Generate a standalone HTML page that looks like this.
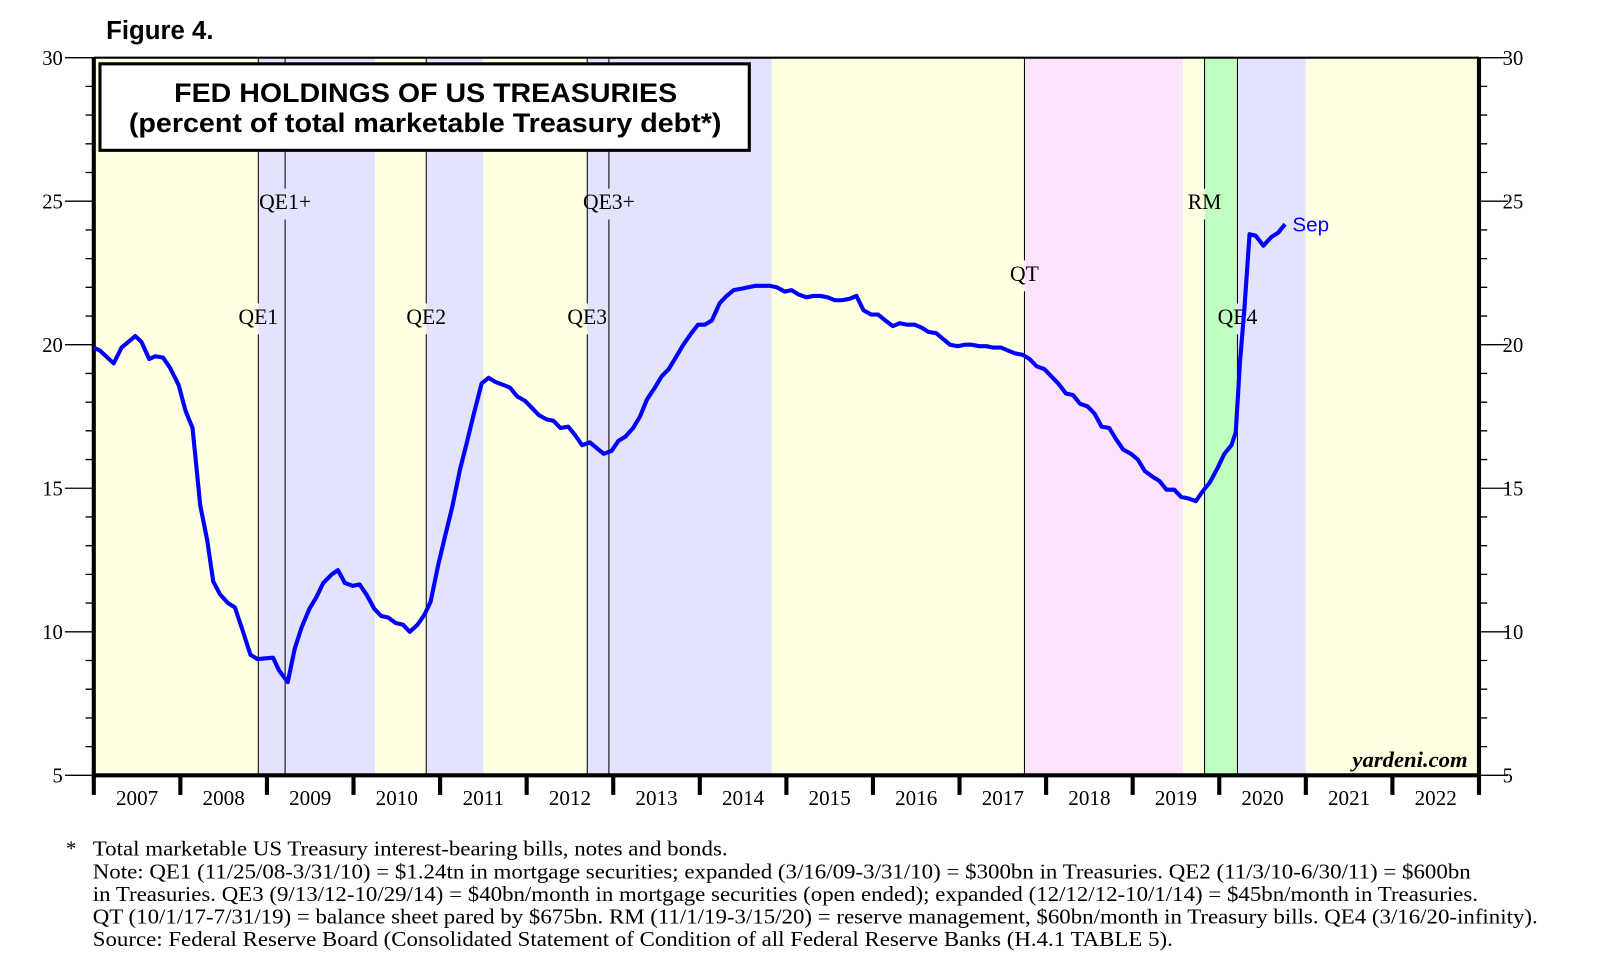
<!DOCTYPE html>
<html><head><meta charset="utf-8"><style>
html,body{margin:0;padding:0;background:#fff;}
svg{display:block;}
.serif{font-family:"Liberation Serif",serif;}
.sans{font-family:"Liberation Sans",sans-serif;}
</style></head><body>
<svg id="chart" width="1614" height="972" viewBox="0 0 1566 944" preserveAspectRatio="none" xmlns="http://www.w3.org/2000/svg">
<g id="bands"></g>
<g id="vlines"></g>
<g id="axes"></g>
<path id="series" fill="none" stroke="#0000ff" stroke-width="4" stroke-linejoin="round"/>
<text x="1254" y="225" class="sans" font-size="20" fill="#0000ff">Sep</text>
<text x="103" y="38" class="sans" font-size="25" font-weight="bold">Figure 4.</text>
<g>
<rect x="97" y="62" width="630" height="84" fill="#fff" stroke="#000" stroke-width="3"/>
<text x="169" y="99" textLength="488" lengthAdjust="spacingAndGlyphs" class="sans" font-size="26" font-weight="bold">FED HOLDINGS OF US TREASURIES</text>
<text x="125" y="128" textLength="575" lengthAdjust="spacingAndGlyphs" class="sans" font-size="26" font-weight="bold">(percent of total marketable Treasury debt*)</text>
</g>
<text x="1424" y="745" text-anchor="end" class="serif" font-size="22" font-style="italic" font-weight="bold">yardeni.com</text>
<g class="serif" font-size="20">
<text x="64" y="831">*</text>
<text x="90" y="831" textLength="616" lengthAdjust="spacingAndGlyphs">Total marketable US Treasury interest-bearing bills, notes and bonds.</text>
<text x="90" y="853" textLength="1337" lengthAdjust="spacingAndGlyphs">Note: QE1 (11/25/08-3/31/10) = $1.24tn in mortgage securities; expanded (3/16/09-3/31/10) = $300bn in Treasuries. QE2 (11/3/10-6/30/11) = $600bn</text>
<text x="90" y="875" textLength="1344" lengthAdjust="spacingAndGlyphs">in Treasuries. QE3 (9/13/12-10/29/14) = $40bn/month in mortgage securities (open ended); expanded (12/12/12-10/1/14) = $45bn/month in Treasuries.</text>
<text x="90" y="897" textLength="1402" lengthAdjust="spacingAndGlyphs">QT (10/1/17-7/31/19) = balance sheet pared by $675bn. RM (11/1/19-3/15/20) = reserve management, $60bn/month in Treasury bills. QE4 (3/16/20-infinity).</text>
<text x="90" y="919" textLength="1048" lengthAdjust="spacingAndGlyphs">Source: Federal Reserve Board (Consolidated Statement of Condition of all Federal Reserve Banks (H.4.1 TABLE 5).</text>
</g>
</svg>
<script>
// data
const yearLabels = [2007,2008,2009,2010,2011,2012,2013,2014,2015,2016,2017,2018,2019,2020,2021,2022];
const yTicks = [5,10,15,20,25,30];
const bandStarts = [2007,2008.9,2010.25,2010.84,2011.5,2012.7,2014.83,2017.75,2019.58,2019.83,2020.2,2021];
const bandEnds   = [2008.9,2010.25,2010.84,2011.5,2012.7,2014.83,2017.75,2019.58,2019.83,2020.2,2021,2023];
const bandKinds  = ['y','l','y','l','y','l','y','p','y','g','l','y'];
const eventNames = ['QE1','QE1+','QE2','QE3','QE3+','QT','RM','QE4'];
const eventDates = [2008.9,2009.21,2010.84,2012.7,2012.95,2017.75,2019.83,2020.21];
const eventLabelLevels = [20.72,24.72,20.72,20.72,24.72,22.22,24.72,20.72];
const dates = [0,.07,.23,.32,.48,.55,.64,.71,.80,.88,.98,1.06,1.14,1.23,1.31,1.38,1.46,1.55,1.63,1.73,1.81,1.89,2.07,2.14,2.24,2.32,2.40,2.49,2.57,2.65,2.75,2.82,2.90,2.99,3.07,3.15,3.24,3.32,3.40,3.49,3.57,3.65,3.74,3.82,3.89,3.98,4.06,4.14,4.23,4.31,4.39,4.48,4.56,4.64,4.73,4.81,4.89,4.98,5.06,5.14,5.23,5.31,5.39,5.48,5.56,5.64,5.73,5.81,5.89,5.98,6.06,6.14,6.23,6.31,6.39,6.48,6.56,6.64,6.73,6.81,6.89,6.98,7.06,7.14,7.23,7.31,7.39,7.48,7.56,7.64,7.73,7.81,7.89,7.98,8.06,8.14,8.23,8.31,8.39,8.48,8.56,8.64,8.73,8.81,8.89,8.98,9.06,9.14,9.23,9.31,9.39,9.48,9.56,9.64,9.73,9.81,9.89,9.98,10.06,10.14,10.23,10.31,10.39,10.48,10.56,10.64,10.73,10.81,10.89,10.98,11.06,11.14,11.23,11.31,11.39,11.48,11.56,11.64,11.73,11.81,11.89,11.98,12.06,12.14,12.23,12.31,12.39,12.48,12.56,12.64,12.73,12.81,12.89,12.98,13.06,13.14,13.19,13.24,13.29,13.35,13.42,13.51,13.60,13.68,13.76];
const values = [19.9,19.8,19.35,19.9,20.3,20.1,19.5,19.6,19.55,19.2,18.6,17.7,17.1,14.4,13.2,11.75,11.3,11.0,10.85,9.95,9.2,9.05,9.1,8.65,8.25,9.4,10.15,10.8,11.2,11.7,12.0,12.15,11.7,11.6,11.65,11.3,10.8,10.55,10.5,10.3,10.25,10.0,10.25,10.6,11.05,12.35,13.35,14.35,15.65,16.6,17.6,18.65,18.85,18.7,18.6,18.5,18.2,18.05,17.8,17.55,17.4,17.35,17.1,17.15,16.85,16.5,16.6,16.4,16.2,16.3,16.65,16.8,17.1,17.5,18.1,18.5,18.9,19.15,19.6,20.0,20.35,20.7,20.7,20.85,21.45,21.7,21.9,21.95,22.0,22.05,22.05,22.05,22.0,21.85,21.9,21.75,21.65,21.7,21.7,21.65,21.55,21.55,21.6,21.7,21.2,21.05,21.05,20.85,20.65,20.75,20.7,20.7,20.6,20.45,20.4,20.2,20.0,19.95,20.0,20.0,19.95,19.95,19.9,19.9,19.8,19.7,19.65,19.5,19.25,19.15,18.9,18.65,18.3,18.25,17.95,17.85,17.6,17.15,17.1,16.7,16.35,16.2,16.0,15.6,15.4,15.25,14.95,14.95,14.7,14.65,14.55,14.9,15.2,15.7,16.2,16.5,16.95,19.45,21.25,23.85,23.8,23.45,23.75,23.9,24.2];

const NS='http://www.w3.org/2000/svg';
const L=91,R=1435,T=56,B=753,Y0=2007,Y1=2023,V0=5,V1=30;
const xs=d=>L+(d-Y0)/(Y1-Y0)*(R-L);
const ys=v=>B-(v-V0)/(V1-V0)*(B-T);
function mk(tag,at,parent){const e=document.createElementNS(NS,tag);for(const k in at)e.setAttribute(k,at[k]);parent.appendChild(e);return e;}
const colors={y:'#ffffe3',l:'#e3e3fd',p:'#fce3fc',g:'#bfffbf'};
const bands=document.getElementById('bands');
bandStarts.forEach((s,i)=>{
  const e=mk('rect',{x:xs(s),y:T,width:xs(Math.min(bandEnds[i],Y1))-xs(s),height:B-T,fill:colors[bandKinds[i]]},bands);
  
  
});
const vl=document.getElementById('vlines');
eventDates.forEach((d,i)=>{
  const x=xs(d), ly=ys(eventLabelLevels[i]);
  const ln=mk('path',{d:`M${x},${T}V${ly-20}M${x},${ly+10}V${B}`,stroke:'#000','stroke-width':1},vl);
  
  
  const t=mk('text',{x:x,y:ly,'text-anchor':'middle','font-size':21,class:'serif'},vl);
  t.textContent=eventNames[i];
  
  
});
const ax=document.getElementById('axes');
mk('path',{d:`M${L},${T}H${R}`,stroke:'#000','stroke-width':2},ax);
mk('path',{d:`M${L},${T}V${B}H${R}V${T}`,stroke:'#000','stroke-width':4,fill:'none'},ax);
for(let v=V0;v<=V1;v++){
  const y=ys(v),maj=v%5===0,len=maj?28:8;
  mk('path',{d:`M${L-len},${y}H${L}M${R},${y}H${R+len}`,stroke:'#000','stroke-width':1.3},ax);
}
yTicks.forEach(v=>{
  const a=mk('text',{x:L-30,y:ys(v)+7,'text-anchor':'end','font-size':20,class:'serif'},ax);a.textContent=v;
  
  
  const b=mk('text',{x:R+23,y:ys(v)+7,'font-size':20,class:'serif'},ax);b.textContent=v;
  
  
});
for(let yr=Y0;yr<=Y1;yr++){mk('path',{d:`M${xs(yr)},${B}V${B+19}`,stroke:'#000','stroke-width':4},ax);}
yearLabels.forEach(yr=>{
  const t=mk('text',{x:xs(yr+0.5),y:B+29,'text-anchor':'middle','font-size':20.5,class:'serif'},ax);t.textContent=yr;
  
  
});
document.getElementById('series').setAttribute('d',dates.map((d,i)=>(i?'L':'M')+xs(Y0+d).toFixed(1)+','+ys(values[i]).toFixed(1)).join(''));
</script>
</body></html>
